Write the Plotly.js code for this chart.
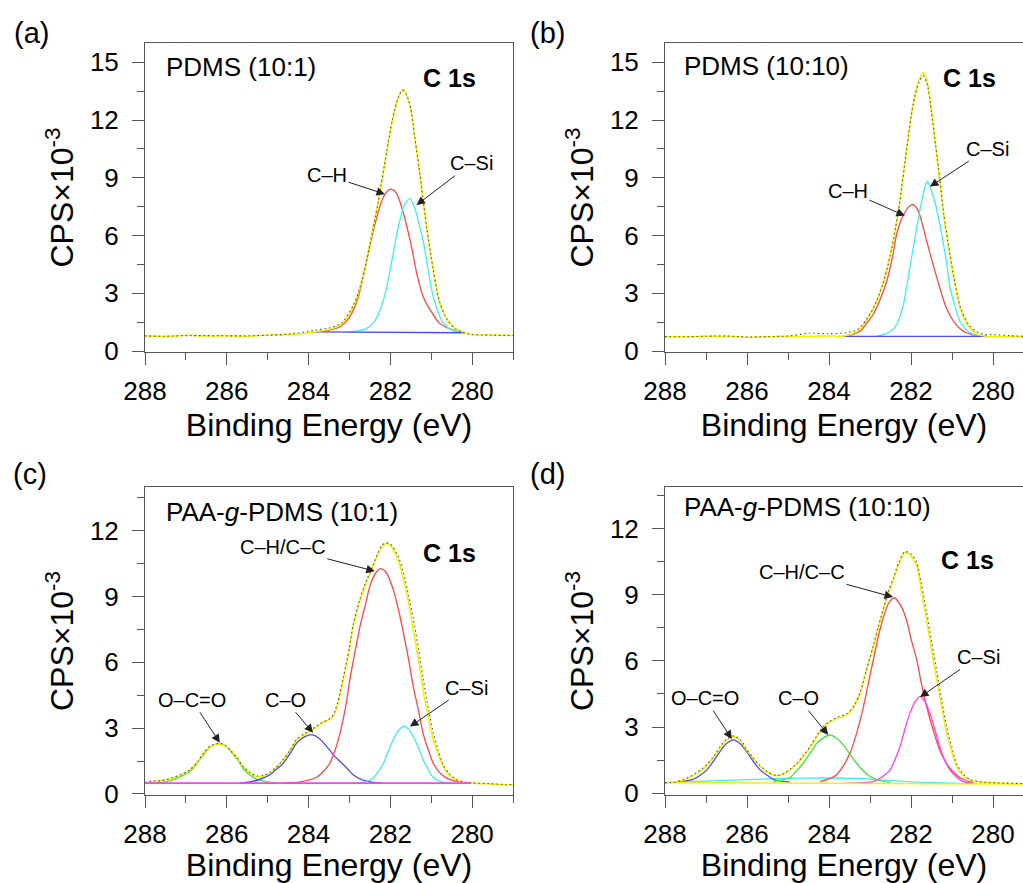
<!DOCTYPE html>
<html>
<head>
<meta charset="utf-8">
<script src="https://cdn.plot.ly/plotly-3.0.1.min.js"></script>
<style>html,body{margin:0;padding:0;background:#fff;}#chart{width:1023px;height:883px;}</style>
</head>
<body>
<div id="chart"></div>
<script>
// ---------------- Panel (a): PDMS (10:1) ----------------
const a_env_E = [288, 287.5, 287, 286.5, 286, 285.5, 285, 284.5, 284.0, 283.8, 283.5, 283.2, 282.9, 282.7, 282.5, 282.3, 282.1, 281.95, 281.8, 281.7, 281.6, 281.5, 281.4, 281.3, 281.2, 281.1, 281.0, 280.8, 280.6, 280.4, 280.2, 280.0, 279.5, 279.0];
const a_fit_V = [0.80, 0.75, 0.82, 0.78, 0.80, 0.77, 0.83, 0.85, 0.95, 1.02, 1.12, 1.38, 2.35, 3.6, 5.6, 7.7, 10.2, 12.0, 13.2, 13.58, 13.3, 12.5, 11.0, 9.5, 7.8, 6.2, 4.8, 2.55, 1.6, 1.15, 0.97, 0.85, 0.83, 0.82];
const a_raw_V = [0.78, 0.77, 0.80, 0.80, 0.79, 0.79, 0.82, 0.88, 1.02, 1.10, 1.20, 1.45, 2.4, 3.6, 5.5, 7.7, 10.2, 12.0, 13.2, 13.55, 13.3, 12.6, 11.1, 9.6, 7.9, 6.3, 4.9, 2.6, 1.6, 1.15, 0.95, 0.86, 0.82, 0.80];
const a_CH_E = [283.85, 283.5, 283.2, 283.0, 282.8, 282.6, 282.4, 282.2, 282.05, 281.97, 281.85, 281.7, 281.5, 281.35, 281.2, 281.0, 280.8, 280.6, 280.4, 280.2];
const a_CH_V = [1.0, 1.08, 1.3, 1.75, 2.7, 4.5, 6.4, 7.85, 8.35, 8.41, 8.2, 7.3, 5.6, 4.0, 2.85, 2.05, 1.45, 1.2, 1.05, 0.97];
const a_CSi_E = [283.0, 282.8, 282.6, 282.4, 282.25, 282.1, 281.93, 281.8, 281.65, 281.52, 281.4, 281.3, 281.2, 281.05, 280.95, 280.8, 280.7, 280.5, 280.3, 280.18];
const a_CSi_V = [1.0, 1.05, 1.15, 1.5, 2.13, 3.2, 5.07, 6.5, 7.6, 7.92, 7.4, 6.6, 5.76, 3.9, 2.82, 1.85, 1.44, 1.1, 1.0, 0.97];
const a_base_E = [283.85, 280.18];
const a_base_V = [1.0, 0.95];

// ---------------- Panel (b): PDMS (10:10) ----------------
const b_env_E = [288, 287.5, 287, 286.5, 286, 285.5, 285, 284.5, 284, 283.6, 283.3, 283.1, 282.9, 282.7, 282.5, 282.3, 282.1, 281.95, 281.8, 281.7, 281.6, 281.5, 281.4, 281.3, 281.2, 281.1, 281.0, 280.8, 280.6, 280.4, 280.2, 280.0, 279.6, 279.27];
const b_fit_V = [0.75, 0.74, 0.76, 0.77, 0.72, 0.74, 0.76, 0.77, 0.78, 0.80, 1.05, 1.55, 2.3, 3.4, 5.1, 7.4, 10.6, 12.8, 14.1, 14.45, 13.9, 12.4, 10.6, 8.85, 7.0, 5.6, 4.3, 2.25, 1.3, 0.9, 0.78, 0.75, 0.75, 0.75];
const b_raw_V = [0.75, 0.74, 0.77, 0.78, 0.73, 0.75, 0.78, 0.92, 0.90, 0.95, 1.12, 1.6, 2.3, 3.4, 5.0, 7.4, 10.6, 12.8, 14.0, 14.3, 13.8, 12.4, 10.7, 9.0, 7.1, 5.7, 4.4, 2.3, 1.4, 1.0, 0.86, 0.85, 0.80, 0.76];
const b_CH_E = [283.65, 283.4, 283.24, 283.1, 282.92, 282.75, 282.59, 282.45, 282.35, 282.2, 282.05, 281.96, 281.85, 281.75, 281.62, 281.45, 281.3, 281.15, 280.97, 280.8, 280.65, 280.4, 280.15];
const b_CH_V = [0.76, 0.88, 1.04, 1.4, 1.91, 2.7, 3.65, 4.9, 6.08, 7.0, 7.5, 7.6, 7.4, 6.8, 5.73, 4.4, 3.3, 2.3, 1.56, 1.15, 0.95, 0.8, 0.76];
const b_CSi_E = [282.84, 282.6, 282.45, 282.35, 282.2, 282.11, 282.0, 281.86, 281.75, 281.65, 281.6, 281.5, 281.4, 281.3, 281.15, 281.05, 280.95, 280.81, 280.65, 280.48, 280.3, 280.15];
const b_CSi_V = [0.76, 0.9, 1.1, 1.39, 2.3, 3.3, 4.7, 6.42, 7.7, 8.6, 8.82, 8.3, 7.6, 6.6, 4.8, 3.3, 2.5, 1.56, 1.1, 0.87, 0.78, 0.76];
const b_base_E = [283.65, 280.15];
const b_base_V = [0.76, 0.76];

// ---------------- Panel (c): PAA-g-PDMS (10:1) ----------------
const c_env_E = [288, 287.8, 287.6, 287.31, 287.1, 286.9, 286.7, 286.57, 286.4, 286.21, 286.05, 285.92, 285.75, 285.6, 285.45, 285.27, 285.1, 284.95, 284.8, 284.62, 284.45, 284.29, 284.1, 283.97, 283.8, 283.68, 283.5, 283.4, 283.3, 283.15, 283.0, 282.91, 282.75, 282.6, 282.42, 282.3, 282.2, 282.1, 282.0, 281.93, 281.8, 281.68, 281.55, 281.44, 281.3, 281.2, 281.07, 280.95, 280.83, 280.71, 280.55, 280.38, 280.2, 279.98, 279.6, 279.3, 279.16, 279.0];
const c_fit_V = [0.5, 0.55, 0.62, 0.72, 0.88, 1.1, 1.5, 1.86, 2.15, 2.29, 2.2, 2.02, 1.65, 1.25, 0.98, 0.79, 0.82, 0.95, 1.2, 1.56, 2.0, 2.47, 2.7, 2.85, 3.05, 3.23, 3.4, 3.54, 4.0, 5.21, 6.6, 7.65, 8.8, 9.6, 10.4, 10.95, 11.3, 11.42, 11.35, 11.16, 10.6, 9.79, 8.7, 7.5, 6.0, 4.76, 3.5, 2.47, 1.8, 1.25, 0.85, 0.64, 0.53, 0.49, 0.46, 0.43, 0.40, 0.44];
const c_raw_V = [0.52, 0.6, 0.6, 0.75, 0.9, 1.1, 1.5, 1.86, 2.2, 2.3, 2.25, 2.0, 1.65, 1.25, 1.0, 0.82, 0.85, 0.97, 1.2, 1.56, 2.0, 2.5, 2.75, 2.9, 3.1, 3.25, 3.4, 3.6, 4.1, 5.3, 6.7, 7.7, 8.85, 9.65, 10.45, 11.0, 11.35, 11.45, 11.4, 11.25, 10.8, 10.1, 9.0, 8.0, 6.5, 5.3, 3.9, 2.8, 2.0, 1.35, 0.9, 0.66, 0.55, 0.5, 0.47, 0.44, 0.42, 0.43];
const c_CH_E = [284.62, 284.2, 283.8, 283.6, 283.48, 283.35, 283.23, 283.1, 282.99, 282.85, 282.74, 282.6, 282.5, 282.35, 282.24, 282.1, 281.93, 281.8, 281.68, 281.55, 281.44, 281.3, 281.2, 281.07, 280.95, 280.8, 280.62, 280.4, 280.22, 280.0];
const c_CH_V = [0.49, 0.55, 0.76, 1.1, 1.4, 2.0, 2.77, 3.9, 5.21, 6.6, 7.65, 8.7, 9.48, 10.1, 10.28, 10.1, 9.33, 8.4, 7.35, 6.1, 4.91, 3.7, 2.77, 2.0, 1.4, 0.98, 0.72, 0.58, 0.52, 0.49];
const c_CO_E = [285.68, 285.3, 284.95, 284.8, 284.62, 284.45, 284.29, 284.1, 283.92, 283.75, 283.56, 283.4, 283.23, 283.05, 282.91, 282.7, 282.42, 282.2];
const c_CO_V = [0.49, 0.6, 0.87, 1.1, 1.4, 1.85, 2.32, 2.6, 2.7, 2.55, 2.17, 1.8, 1.48, 1.15, 0.87, 0.65, 0.52, 0.49];
const c_OCO_E = [287.8, 287.5, 287.31, 287.1, 286.9, 286.75, 286.57, 286.4, 286.21, 286.05, 285.92, 285.75, 285.6, 285.45, 285.27, 285.0, 284.7];
const c_OCO_V = [0.49, 0.55, 0.64, 0.82, 1.02, 1.35, 1.79, 2.15, 2.29, 2.2, 1.98, 1.6, 1.17, 0.88, 0.67, 0.55, 0.49];
const c_CSi_E = [282.91, 282.6, 282.42, 282.3, 282.17, 282.05, 281.93, 281.8, 281.68, 281.55, 281.44, 281.3, 281.2, 281.07, 280.95, 280.75, 280.54];
const c_CSi_V = [0.49, 0.55, 0.72, 1.0, 1.4, 1.95, 2.47, 2.9, 3.08, 2.95, 2.62, 2.05, 1.56, 1.1, 0.75, 0.55, 0.49];
const c_base_E = [288, 280.05];
const c_base_V = [0.49, 0.49];

// ---------------- Panel (d): PAA-g-PDMS (10:10) ----------------
const d_env_E = [288, 287.75, 287.55, 287.4, 287.22, 287.1, 286.98, 286.8, 286.66, 286.5, 286.33, 286.15, 286.01, 285.85, 285.68, 285.5, 285.28, 285.1, 284.95, 284.8, 284.63, 284.45, 284.3, 284.15, 283.98, 283.8, 283.57, 283.4, 283.24, 283.1, 282.92, 282.8, 282.67, 282.55, 282.43, 282.3, 282.15, 282.0, 281.86, 281.75, 281.62, 281.5, 281.37, 281.25, 281.13, 281.0, 280.89, 280.75, 280.56, 280.3, 280.07, 279.7, 279.27];
const d_fit_V = [0.47, 0.52, 0.6, 0.72, 0.9, 1.05, 1.28, 1.65, 2.04, 2.4, 2.57, 2.35, 1.96, 1.6, 1.21, 0.95, 0.79, 0.88, 1.06, 1.3, 1.66, 2.1, 2.57, 2.95, 3.25, 3.4, 3.55, 3.9, 4.53, 5.5, 6.64, 7.5, 8.38, 9.1, 9.67, 10.4, 10.9, 10.75, 10.27, 9.2, 7.85, 6.5, 5.13, 3.9, 2.72, 1.85, 1.21, 0.85, 0.6, 0.5, 0.48, 0.45, 0.42];
const d_raw_V = [0.48, 0.5, 0.62, 0.75, 0.95, 1.1, 1.3, 1.7, 2.1, 2.45, 2.6, 2.4, 2.0, 1.6, 1.25, 0.98, 0.8, 0.9, 1.1, 1.32, 1.7, 2.15, 2.6, 3.0, 3.25, 3.45, 3.6, 3.95, 4.6, 5.5, 6.7, 7.55, 8.4, 9.15, 9.75, 10.45, 10.95, 10.85, 10.45, 9.5, 8.2, 6.9, 5.5, 4.2, 3.0, 2.05, 1.35, 0.92, 0.62, 0.52, 0.48, 0.46, 0.44];
const d_CH_E = [284.22, 284.0, 283.82, 283.65, 283.49, 283.33, 283.16, 283.05, 282.92, 282.8, 282.67, 282.55, 282.41, 282.25, 282.11, 282.0, 281.86, 281.75, 281.62, 281.45, 281.3, 281.1, 280.89, 280.7, 280.48];
const d_CH_V = [0.53, 0.65, 0.83, 1.25, 1.81, 2.7, 3.93, 4.9, 6.04, 7.1, 8.0, 8.6, 8.86, 8.5, 7.85, 7.0, 6.04, 5.0, 3.93, 2.8, 1.96, 1.25, 0.83, 0.6, 0.48];
const d_CO_E = [285.36, 285.15, 284.95, 284.8, 284.63, 284.45, 284.3, 284.15, 283.98, 283.82, 283.65, 283.5, 283.33, 283.15, 283.0, 282.8, 282.51];
const d_CO_V = [0.53, 0.6, 0.71, 1.0, 1.36, 1.85, 2.26, 2.5, 2.64, 2.5, 2.19, 1.8, 1.36, 1.0, 0.76, 0.6, 0.48];
const d_OCO_E = [287.71, 287.5, 287.31, 287.15, 286.98, 286.82, 286.66, 286.5, 286.33, 286.17, 286.01, 285.85, 285.68, 285.5, 285.36, 285.15, 284.95];
const d_OCO_V = [0.53, 0.56, 0.63, 0.8, 1.06, 1.45, 1.89, 2.25, 2.42, 2.25, 1.89, 1.45, 1.06, 0.8, 0.63, 0.55, 0.5];
const d_CSi_E = [283.65, 283.2, 282.92, 282.7, 282.51, 282.4, 282.27, 282.15, 282.03, 281.9, 281.78, 281.66, 281.54, 281.42, 281.3, 281.18, 281.05, 280.9, 280.73, 280.5];
const d_CSi_V = [0.45, 0.48, 0.53, 0.75, 1.06, 1.5, 2.11, 2.9, 3.62, 4.15, 4.38, 4.15, 3.62, 2.9, 2.11, 1.5, 1.06, 0.75, 0.53, 0.45];
const d_base_E = [288, 287, 286, 285, 284.2, 283.6, 283, 282.2, 281, 280.4];
const d_base_V = [0.48, 0.55, 0.62, 0.67, 0.69, 0.68, 0.64, 0.54, 0.46, 0.44];
const d_line_E = [288, 279.27];
const d_line_V = [0.48, 0.42];

// ---------------- Text ----------------
const panelLetters = ['(a)', '(b)', '(c)', '(d)'];
const sampleNames = ['PDMS (10:1)', 'PDMS (10:10)', 'PAA-<i>g</i>-PDMS (10:1)', 'PAA-<i>g</i>-PDMS (10:10)'];
const coreLevel = 'C 1s';
const xTitle = 'Binding Energy (eV)';
const yTitle = 'CPS×10<sup>-3</sup>';

// ---------------- Styles ----------------
const FONT = 'Liberation Sans, Arial, Helvetica, sans-serif';
const COL = {yellow:'#f2f200', red:'#ff4545', cyan:'#3cf0f0', blue:'#4a4aff', green:'#3ee83e', magenta:'#ff3cff', data:'#505050'};
const W = 1023, H = 883;
const X = px => px / W;
const Y = py => 1 - py / H;

function tr(xs, ys, color, n, opts) {
  opts = opts || {};
  return {
    x: xs, y: ys, type: 'scatter', mode: 'lines',
    xaxis: n === 1 ? 'x' : 'x' + n, yaxis: n === 1 ? 'y' : 'y' + n,
    line: {color: color, width: opts.width || 1.3, shape: opts.linear ? 'linear' : 'spline', smoothing: 0.8, dash: opts.dash || 'solid'},
    hoverinfo: 'skip', showlegend: false
  };
}
const DOT = {dash: '1.5px,3px', width: 1.1};

const traces = [
  // (a)
  tr(a_CH_E, a_CH_V, COL.red, 1), tr(a_CSi_E, a_CSi_V, COL.cyan, 1),
  tr(a_base_E, a_base_V, COL.blue, 1, {linear:true}),
  tr(a_env_E, a_fit_V, COL.yellow, 1, {width:1.6}), tr(a_env_E, a_raw_V, COL.data, 1, DOT),
  // (b)
  tr(b_CH_E, b_CH_V, COL.red, 2), tr(b_CSi_E, b_CSi_V, COL.cyan, 2),
  tr(b_base_E, b_base_V, COL.blue, 2, {linear:true}),
  tr(b_env_E, b_fit_V, COL.yellow, 2, {width:1.6}), tr(b_env_E, b_raw_V, COL.data, 2, DOT),
  // (c)
  tr(c_OCO_E, c_OCO_V, COL.green, 3), tr(c_CO_E, c_CO_V, COL.blue, 3),
  tr(c_CH_E, c_CH_V, COL.red, 3), tr(c_CSi_E, c_CSi_V, COL.cyan, 3),
  tr(c_env_E, c_fit_V, COL.yellow, 3, {width:1.6}), tr(c_env_E, c_raw_V, COL.data, 3, DOT),
  tr(c_base_E, c_base_V, COL.magenta, 3, {linear:true, width:1.6}),
  // (d)
  tr(d_base_E, d_base_V, COL.cyan, 4),
  tr(d_OCO_E, d_OCO_V, COL.blue, 4), tr(d_CO_E, d_CO_V, COL.green, 4),
  tr(d_CH_E, d_CH_V, COL.red, 4), tr(d_CSi_E, d_CSi_V, COL.magenta, 4),
  tr(d_line_E, d_line_V, COL.yellow, 4, {linear:true, width:1.6}),
  tr(d_env_E, d_fit_V, COL.yellow, 4, {width:1.6}), tr(d_env_E, d_raw_V, COL.data, 4, DOT)
];

const AX = '#555';
function xax(domain, range, anchor) {
  return {
    domain: domain, range: range, anchor: anchor, autorange: false,
    showline: true, linecolor: AX, linewidth: 1, mirror: true,
    ticks: 'outside', ticklen: 12, tickwidth: 1, tickcolor: AX,
    tick0: 280, dtick: 2, ticklabelstandoff: 4,
    minor: {dtick: 1, ticks: 'outside', ticklen: 7, tickcolor: AX, tickwidth: 1},
    showgrid: false, zeroline: false, automargin: false,
    tickfont: {family: FONT, size: 26, color: '#000'},
    title: {text: xTitle, font: {family: FONT, size: 32, color: '#000'}, standoff: 8}
  };
}
function yax(domain, range, anchor, mirror) {
  return {
    domain: domain, range: range, anchor: anchor, autorange: false,
    showline: true, linecolor: AX, linewidth: 1, mirror: mirror,
    ticks: 'outside', ticklen: 12, tickwidth: 1, tickcolor: AX,
    tick0: 0, dtick: 3, ticklabelstandoff: 8,
    minor: {dtick: 1.5, ticks: 'outside', ticklen: 7, tickcolor: AX, tickwidth: 1},
    showgrid: false, zeroline: false, automargin: false,
    tickfont: {family: FONT, size: 26, color: '#000'},
    title: {text: yTitle, font: {family: FONT, size: 32, color: '#000'}, standoff: 6}
  };
}

const xL = [X(145), X(513)], xR = [X(665), 1];
const yT = [Y(352), Y(43)], yB = [Y(795), Y(487)];

// arrow annotations: tip in data coords, text offset in px
function arrow(n, text, x, y, ax, ay) {
  return {
    xref: n === 1 ? 'x' : 'x' + n, yref: n === 1 ? 'y' : 'y' + n,
    x: x, y: y, ax: ax, ay: ay, text: text, showarrow: true,
    arrowhead: 2, arrowsize: 1.7, arrowwidth: 1, arrowcolor: '#222', standoff: 0,
    font: {family: FONT, size: 20, color: '#000'}
  };
}
function ptext(text, px, py, size, anchor, bold) {
  return {
    xref: 'paper', yref: 'paper', x: X(px), y: Y(py), text: text,
    showarrow: false, xanchor: anchor, yanchor: 'middle',
    font: {family: FONT, size: size, color: '#000', weight: bold ? 'bold' : 'normal'}
  };
}

const annotations = [
  ptext(panelLetters[0], 31, 33, 29, 'center'),
  ptext(panelLetters[1], 547, 33, 29, 'center'),
  ptext(panelLetters[2], 30, 474, 29, 'center'),
  ptext(panelLetters[3], 547, 474, 29, 'center'),
  ptext(sampleNames[0], 164, 67, 26, 'left'),
  ptext(sampleNames[1], 682, 66, 26, 'left'),
  ptext(sampleNames[2], 164, 512, 26, 'left'),
  ptext(sampleNames[3], 682, 507, 26, 'left'),
  ptext(coreLevel, 449, 78, 25, 'center', true),
  ptext(coreLevel, 969, 78, 25, 'center', true),
  ptext(coreLevel, 449, 553, 25, 'center', true),
  ptext(coreLevel, 967, 560, 25, 'center', true),
  arrow(1, 'C–H', 282.13, 8.15, -58, -19),
  arrow(1, 'C–Si', 281.36, 7.58, 55, -42),
  arrow(2, 'C–H', 282.15, 7.03, -57, -25),
  arrow(2, 'C–Si', 281.54, 8.54, 58, -38),
  arrow(3, 'C–H/C–C', 282.38, 10.16, -92, -24),
  arrow(3, 'C–Si', 281.52, 3.07, 57, -39),
  arrow(3, 'C–O', 283.89, 2.79, -28, -33),
  arrow(3, 'O–C=O', 286.17, 2.33, -28, -43),
  arrow(4, 'C–H/C–C', 282.44, 8.89, -91, -25),
  arrow(4, 'C–Si', 281.78, 4.36, 58, -40),
  arrow(4, 'C–O', 284.02, 2.64, -30, -37),
  arrow(4, 'O–C=O', 286.37, 2.46, -27, -41)
];

const layout = {
  width: W, height: H,
  margin: {l: 0, r: 0, t: 0, b: 0, pad: 0},
  paper_bgcolor: '#fff', plot_bgcolor: '#fff',
  font: {family: FONT, color: '#000'},
  showlegend: false,
  xaxis: xax(xL, [288, 279], 'y'),
  yaxis: yax(yT, [-0.05, 16.0], 'x', true),
  xaxis2: xax(xR, [288, 279.27], 'y2'),
  yaxis2: yax(yT, [-0.05, 16.0], 'x2', false),
  xaxis3: xax(xL, [288, 279], 'y3'),
  yaxis3: yax(yB, [-0.05, 14.0], 'x3', true),
  xaxis4: xax(xR, [288, 279.27], 'y4'),
  yaxis4: yax(yB, [-0.08, 13.88], 'x4', false),
  annotations: annotations
};

Plotly.newPlot('chart', traces, layout, {staticPlot: true, displayModeBar: false});
</script>
</body>
</html>
